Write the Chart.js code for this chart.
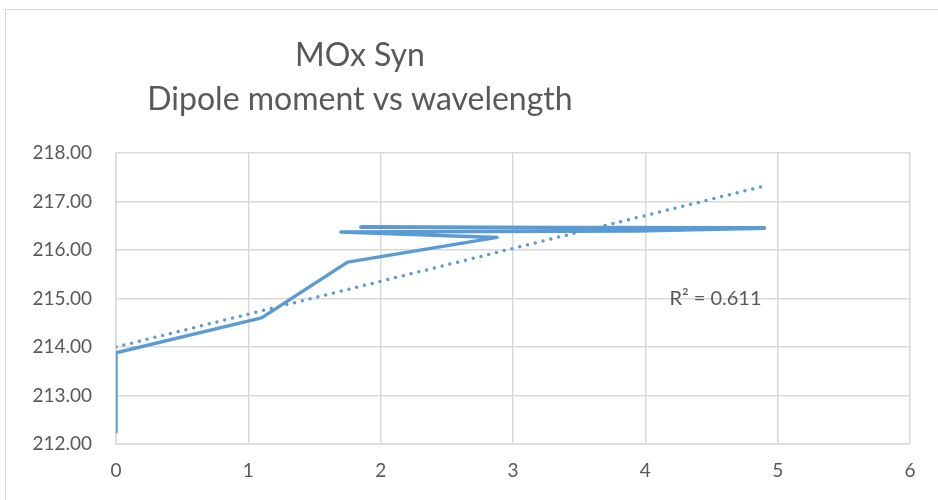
<!DOCTYPE html>
<html>
<head>
<meta charset="utf-8">
<script src="https://cdn.jsdelivr.net/npm/chart.js@4"></script>
<style>
    html,body{margin:0;padding:0;background:#fff;overflow:hidden;width:938px;height:500px;}
    #frame{position:absolute;left:5px;top:9px;width:980px;height:540px;border:1px solid #d9d9d9;}
    #dataChart{display:block;}
</style>
</head>
<body>
<div id="frame">
    <canvas id="dataChart" width="933" height="491"></canvas>
</div>
<script>
// values
const titleLines = ["MOx Syn", "Dipole moment vs wavelength"];
const wavelength = [0, 0, 1.1, 1.75, 2.88, 1.7, 3.93, 4.9, 1.85, 4.9];
const dipole = [212.25, 213.88, 214.6, 215.75, 216.26, 216.37, 216.39, 216.45, 216.47, 216.46];
const trendX = [0, 4.9];
const trendY = [214.0, 217.32];
const rSquaredText = "R² = 0.611";
const rSquaredPos = [4.53, 215.0];
const xTicks = [0, 1, 2, 3, 4, 5, 6];
const yTicks = [212, 213, 214, 215, 216, 217, 218];

const fontName = "Lato, 'Open Sans', sans-serif";
const textColor = "#595959";
const lineColor = "#5b9bd5";

// draws the excel style title (offset to the left) and the R² label
const extraText = {
    id: "extraText",
    afterDraw(chart){
        let ctx = chart.ctx;
        ctx.save();
        ctx.fillStyle = textColor;
        ctx.textAlign = "center";
        ctx.textBaseline = "middle";
        ctx.font = "32px " + fontName;
        ctx.fillText(titleLines[0], 354, 46);
        ctx.fillText(titleLines[1], 354, 90);

        let xs = chart.scales.x;
        let ys = chart.scales.y;
        ctx.font = "20px " + fontName;
        ctx.fillText(rSquaredText, xs.getPixelForValue(rSquaredPos[0]), ys.getPixelForValue(rSquaredPos[1]));
        ctx.restore();
    }
};

let ctx = document.getElementById("dataChart").getContext("2d");
let chart = new Chart(ctx, {
    type: "scatter",
    data: {
        datasets: [
            {
                label: "Dipole moment",
                data: wavelength.map((x, i) => ({x: x, y: dipole[i]})),
                showLine: true,
                borderColor: lineColor,
                borderWidth: 3.5,
                pointRadius: 0,
                tension: 0,
                clip: 0,
                borderJoinStyle: "round",
                borderCapStyle: "round"
            },
            {
                label: "Linear trend",
                data: trendX.map((x, i) => ({x: x, y: trendY[i]})),
                showLine: true,
                borderColor: lineColor,
                borderWidth: 3.5,
                borderDash: [0, 8],
                borderCapStyle: "round",
                pointRadius: 0
            }
        ]
    },
    options: {
        responsive: false,
        animation: false,
        layout: {
            padding: {top: 143, right: 29, left: 0, bottom: 0}
        },
        plugins: {
            legend: {display: false},
            title: {display: false},
            tooltip: {enabled: false}
        },
        scales: {
            x: {
                type: "linear",
                min: 0,
                max: 6,
                afterBuildTicks: (scale) => { scale.ticks = xTicks.map(v => ({value: v})); },
                afterFit: (scale) => { scale.height = 57; },
                grid: {color: "#d9d9d9", lineWidth: 1.5, drawTicks: false},
                border: {color: "#d9d9d9", width: 1.5},
                ticks: {
                    color: textColor,
                    padding: 15,
                    font: {family: fontName, size: 19},
                    callback: (v) => v
                }
            },
            y: {
                min: 212,
                max: 218,
                afterBuildTicks: (scale) => { scale.ticks = yTicks.map(v => ({value: v})); },
                afterFit: (scale) => { scale.width = 110; },
                grid: {color: "#d9d9d9", lineWidth: 1.5, drawTicks: false},
                border: {color: "#d9d9d9", width: 1.5},
                ticks: {
                    color: textColor,
                    padding: 24,
                    font: {family: fontName, size: 19},
                    callback: (v) => v.toFixed(2)
                }
            }
        }
    },
    plugins: [extraText]
});
</script>
</body>
</html>
